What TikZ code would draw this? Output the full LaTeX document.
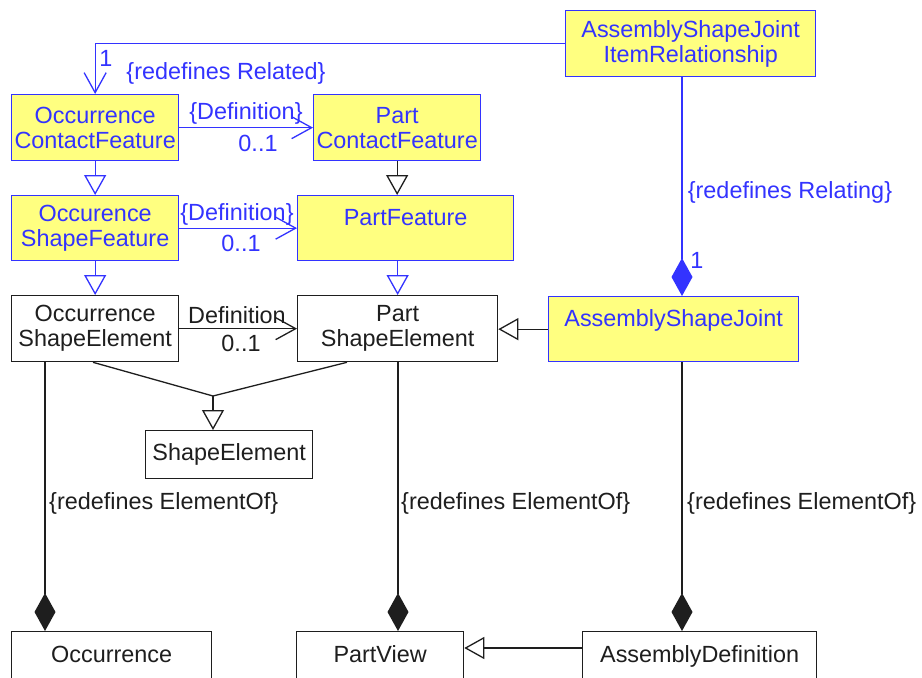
\documentclass[tikz,border=0pt]{standalone}
\usepackage{fontspec}
\setmainfont{Liberation Sans}
\usetikzlibrary{arrows.meta}
\definecolor{umlblue}{RGB}{51,51,255}
\definecolor{umldeep}{RGB}{10,10,240}
\definecolor{umlyellow}{RGB}{255,255,128}
\definecolor{umlline}{RGB}{30,30,30}

\begin{document}
\begin{tikzpicture}[x=1pt,y=-1pt,
  every node/.style={font=\fontsize{23.4}{25}\selectfont},
  cls/.style={draw=umlline, fill=white, text=umlline, line width=1.3pt,
    inner sep=0pt, align=center, anchor=north west},
  feat/.style={cls, draw=umlblue, fill=umlyellow, text=umlblue},
  topline/.style={text height=30pt, text depth=35pt},
  cutbox/.style={text height=31pt, text depth=20pt},
  bl/.style={draw=umlblue, line width=1.3pt},
  bk/.style={draw=umlline, line width=1.3pt},
  gen/.style={-{Triangle[open,length=20pt,width=22pt,fill=white]}},
  nav/.style={-{Straight Barb[length=20pt,width=22pt]}},
  comp/.style={-{Diamond[length=38pt,width=21pt]}},
  bluelbl/.style={inner sep=0pt, text=umlblue},
  blacklbl/.style={inner sep=0pt, text=umlline},
]
\clip (0,0) rectangle (922,678);
\fill[white] (0,0) rectangle (922,678);

% classes
\node[feat, minimum width=167pt, minimum height=66pt] (OCF) at (11,94) {Occurrence\\ContactFeature};
\node[feat, minimum width=167pt, minimum height=66pt] (PCF) at (313,94) {Part\\ContactFeature};
\node[feat, minimum width=167pt, minimum height=65pt] (OSF) at (11,195) {Occurence\\ShapeFeature};
\node[feat, topline, minimum width=216pt] (PF) at (297,195) {PartFeature};
\node[cls, minimum width=167pt, minimum height=66pt] (OSE) at (11,295) {Occurrence\\ShapeElement};
\node[cls, minimum width=200pt, minimum height=66pt] (PSE) at (297,295) {Part\\ShapeElement};
\node[cls, minimum width=167pt, minimum height=48pt] (SE) at (145,430) {ShapeElement};
\node[feat, minimum width=250pt, minimum height=66pt] (ASJIR) at (565,10) {AssemblyShapeJoint\\ItemRelationship};
\node[feat, topline, minimum width=250pt] (ASJ) at (548,296) {AssemblyShapeJoint};
\node[cls, cutbox, minimum width=200pt] (OCC) at (11,631) {Occurrence};
\node[cls, cutbox, minimum width=167pt] (PV) at (296,631) {PartView};
\node[cls, cutbox, minimum width=234pt] (AD) at (582,631) {AssemblyDefinition};

% helper positions
\coordinate (xa) at (45,0);
\coordinate (xb) at (398,0);
\coordinate (xc) at (682,0);
\coordinate (jn) at (213,396);
\coordinate (ya) at (0,648);

% generalizations
\draw[bl,gen] (OCF.south) -- (OSF.north);
\draw[bk,gen] (PCF.south) -- (PCF.south |- PF.north);
\draw[bl,gen] (OSF.south) -- (OSE.north);
\draw[bl,gen] (PF.south -| PSE.north) -- (PSE.north);
\draw[bk,gen] (ASJ.west) -- (ASJ.west -| PSE.east);
\draw[bk] (OSE.south -| 93,0) -- (jn);
\draw[bk] (PSE.south -| 347,0) -- (jn);
\draw[bk,gen] (jn) -- (jn |- SE.north);
\draw[bk,gen] (AD.west |- ya) -- (PV.east |- ya);

% navigable associations
\draw[bl,nav] (OCF.east) -- (PCF.west);
\draw[bl,nav] (OSF.east) -- (OSF.east -| PF.west);
\draw[bk,nav] (OSE.east) -- (PSE.west);
\draw[bl,nav] (ASJIR.west) -| (OCF.north);

% compositions
\draw[bl,comp,fill=umldeep] (ASJIR.south -| xc) -- (ASJ.north -| xc);
\draw[bk,comp,fill=umlline] (OSE.south -| xa) -- (OCC.north -| xa);
\draw[bk,comp,fill=umlline] (PSE.south -| xb) -- (PV.north -| xb);
\draw[bk,comp,fill=umlline] (ASJ.south -| xc) -- (AD.north -| xc);

% association labels
\node[bluelbl] (d1) at (246,113) {\{Definition\}};
\node[bluelbl] (m1) at (258,143) {0..1};
\node[bluelbl] (d2) at (237,214) {\{Definition\}};
\node[bluelbl] (m2) at (241,243) {0..1};
\node[blacklbl] (d3) at (237,315) {Definition};
\node[blacklbl] (m3) at (241,343) {0..1};
\node[bluelbl] (r1) at (106,58) {1};
\node[bluelbl] (rr) at (226,73) {\{redefines Related\}};
\node[bluelbl] (rg) at (790,192) {\{redefines Relating\}};
\node[bluelbl] (r2) at (697,260) {1};
\node[blacklbl, anchor=west] (e1) at (49,503) {\{redefines ElementOf\}};
\node[blacklbl, anchor=west] (e2) at (401,503) {\{redefines ElementOf\}};
\node[blacklbl, anchor=west] (e3) at (687,503) {\{redefines ElementOf\}};
\end{tikzpicture}
\end{document}
